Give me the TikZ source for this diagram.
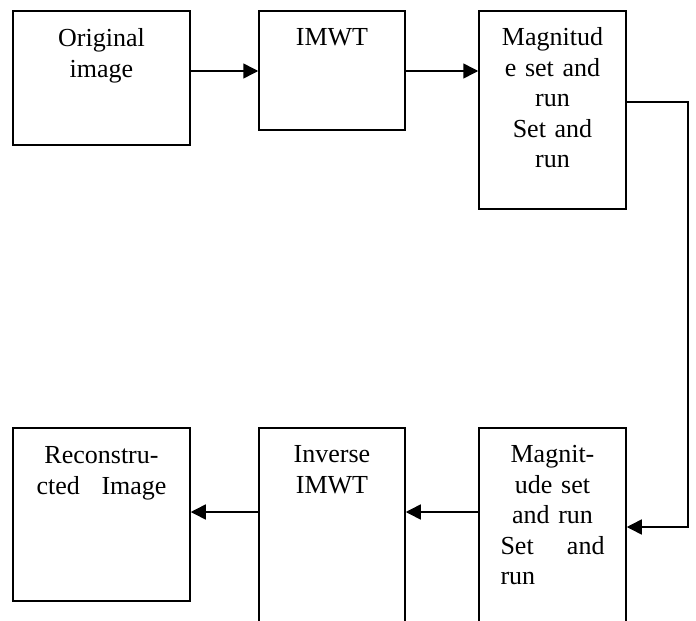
\documentclass[tikz,border=0pt]{standalone}
\usepackage{fontspec}
\setmainfont{Liberation Serif}
\usetikzlibrary{arrows.meta}
\tikzset{
  blk/.style={draw, line width=1.5pt, inner sep=0pt, anchor=north, align=center,
    text width=#1, font=\fontsize{26}{30.5}\selectfont},
  flow/.style={line width=1.5pt, -{Triangle[length=15pt,width=15pt]}}
}
\begin{document}
\begin{tikzpicture}[x=1pt,y=-1pt]
        \clip (0,0) rectangle (696,621);
        \node[blk=177pt, text height=36pt, text depth=98pt] (A) at (101.5,10) {Original\\image};
        \node[blk=146pt, text height=35pt, text depth=84pt] (B) at (332,10) {IMWT};
        \node[blk=147pt, text height=35pt, text depth=163pt] (C) at (552.5,10) {Magnitud\\e set and\\run\\Set and\\run};
        \node[blk=177pt, text height=36pt, text depth=137pt] (D) at (101.5,427) {Reconstru-\\\makebox[130pt][s]{cted\hfill Image}};
        \node[blk=146pt, text height=35pt, text depth=220pt] (E) at (332,427) {Inverse\\IMWT};
        \node[blk=147pt, text height=35pt, text depth=220pt] (F) at (552.5,427) {Magnit-\\ude set\\and run\\\makebox[104pt][s]{Set\hfill and}\\\makebox[104pt][l]{run}};
        \coordinate (r1) at (688,102);
        \coordinate (r2) at (688,527);
        \draw[flow] (A.east |- 0,71) -- (B.west |- 0,71);
        \draw[flow] (B.east |- 0,71) -- (C.west |- 0,71);
        \draw[flow] (C.east |- r1) -- (r1) -- (r2) -- (F.east |- r2);
        \draw[flow] (F.west |- 0,512) -- (E.east |- 0,512);
        \draw[flow] (E.west |- 0,512) -- (D.east |- 0,512);
    \end{tikzpicture}
\end{document}
